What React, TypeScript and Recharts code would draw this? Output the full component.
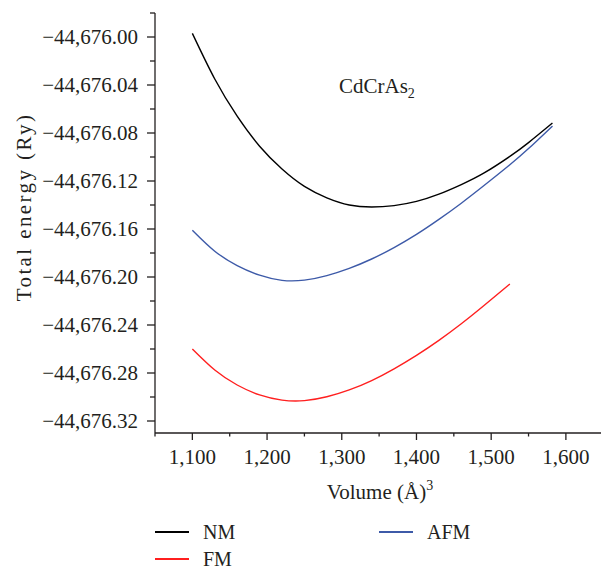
import React from "react";
import { LineChart, Line, XAxis, YAxis } from "recharts";

// volumes (Å^3) and total energies (Ry)
const volume = [1100, 1130, 1160, 1190, 1220, 1250, 1280, 1310, 1340, 1370, 1400, 1430, 1460, 1490, 1525, 1550, 1582];
const nmEnergy = [
  -44675.997, -44676.035, -44676.066, -44676.091, -44676.11, -44676.1245, -44676.134, -44676.14, -44676.1417,
  -44676.1405, -44676.137, -44676.131, -44676.123, -44676.1135, -44676.0995, -44676.088, -44676.0717,
];
const afmEnergy = [
  -44676.161, -44676.1785, -44676.1905, -44676.1985, -44676.2028, -44676.2026, -44676.1988, -44676.1928, -44676.185,
  -44676.1755, -44676.1645, -44676.152, -44676.1385, -44676.124, -44676.1065, -44676.093, -44676.0742,
];
const fmEnergy = [
  -44676.26, -44676.2775, -44676.29, -44676.2983, -44676.3026, -44676.303, -44676.2998, -44676.2941, -44676.2863,
  -44676.2765, -44676.2653, -44676.2528, -44676.239, -44676.224, -44676.2058, null, null,
];

const xTicks = [1050, 1100, 1150, 1200, 1250, 1300, 1350, 1400, 1450, 1500, 1550, 1600];
const yTicks = [
  -44676.32, -44676.3, -44676.28, -44676.26, -44676.24, -44676.22, -44676.2, -44676.18, -44676.16,
  -44676.14, -44676.12, -44676.1, -44676.08, -44676.06, -44676.04, -44676.02, -44676.0, -44675.98,
];
const frameTicks = [1, 2, 3, 4, 5, 6, 7, 8, 9];

const data = volume.map((v, i) => ({ volume: v, NM: nmEnergy[i], AFM: afmEnergy[i], FM: fmEnergy[i] }));

const FONT = '"Liberation Serif", "Times New Roman", serif';
const INK = "#231f20";
const AXIS_W = 1.3;

const fmtEnergy = (v: number) =>
  "\u2212" + Math.abs(v).toLocaleString("en-US", { minimumFractionDigits: 2, maximumFractionDigits: 2 });

const LeftTick = (props: any) => {
  const { x, y, payload } = props;
  const k = Math.round((-44676 - payload.value) / 0.02);
  const major = k % 2 === 0;
  return (
    <g>
      <line x1={x - (major ? 8 : 5)} x2={x} y1={y} y2={y} stroke={INK} strokeWidth={AXIS_W} />
      {major && (
        <text x={x - 17} y={y} dy="0.35em" textAnchor="end" fontFamily={FONT} fontSize={21} fill={INK}>
          {fmtEnergy(payload.value)}
        </text>
      )}
    </g>
  );
};

const BottomTick = (props: any) => {
  const { x, y, payload } = props;
  const major = payload.value % 100 === 0;
  return (
    <g>
      <line x1={x} x2={x} y1={y} y2={y + (major ? 7 : 3.5)} stroke={INK} strokeWidth={AXIS_W} />
      {major && (
        <text x={x} y={y + 31} textAnchor="middle" fontFamily={FONT} fontSize={21} fill={INK}>
          {payload.value.toLocaleString("en-US")}
        </text>
      )}
    </g>
  );
};

const TopTick = (props: any) => {
  const { x, y, payload } = props;
  const len = payload.value % 2 === 0 ? 8 : 3.5;
  return <line x1={x} x2={x} y1={y} y2={y + len} stroke={INK} strokeWidth={AXIS_W} />;
};

const RightTick = (props: any) => {
  const { x, y, payload } = props;
  const len = payload.value % 2 === 0 ? 6 : 2.5;
  return <line x1={x - len} x2={x} y1={y} y2={y} stroke={INK} strokeWidth={AXIS_W} />;
};

const legendItems = [
  { name: "NM", color: "#000000", left: 155, top: 531 },
  { name: "AFM", color: "#3d5aa8", left: 379, top: 531 },
  { name: "FM", color: "#ff1f1f", left: 155, top: 558 },
];

export default function App() {
  return (
    <div
      style={{
        position: "absolute",
        left: 0,
        top: 0,
        width: 601,
        height: 569,
        overflow: "hidden",
        background: "#fff",
        fontFamily: FONT,
        color: INK,
      }}
    >
      <LineChart width={601} height={569} data={data} margin={{ top: 13, right: 0, bottom: 0, left: 0 }}>
        <XAxis
          dataKey="volume"
          type="number"
          domain={[1050, 1647]}
          ticks={xTicks}
          interval={0}
          allowDataOverflow
          height={136}
          tickSize={0}
          tickMargin={0}
          tickLine={false}
          axisLine={{ stroke: INK, strokeWidth: AXIS_W }}
          tick={(p: any) => <BottomTick {...p} />}
          label={() => (
            <text x={380} y={499} textAnchor="middle" fontFamily={FONT} fontSize={21} fill={INK}>
              Volume (Å)
              <tspan dy={-9} fontSize={14}>
                3
              </tspan>
            </text>
          )}
        />
        <XAxis
          xAxisId="frame"
          orientation="top"
          type="number"
          domain={[0, 10]}
          ticks={frameTicks}
          interval={0}
          height={0}
          tickSize={0}
          tickMargin={0}
          tickLine={false}
          axisLine={{ stroke: INK, strokeWidth: AXIS_W }}
          tick={(p: any) => <TopTick {...p} />}
        />
        <YAxis
          type="number"
          domain={[-44676.33, -44675.98]}
          ticks={yTicks}
          interval={0}
          allowDataOverflow
          width={155}
          tickSize={0}
          tickMargin={0}
          tickLine={false}
          axisLine={{ stroke: INK, strokeWidth: AXIS_W }}
          tick={(p: any) => <LeftTick {...p} />}
          label={() => (
            <text
              x={24}
              y={207}
              dy="0.35em"
              transform="rotate(-90 24 207)"
              textAnchor="middle"
              fontFamily={FONT}
              fontSize={21}
              letterSpacing={2.4}
              fill={INK}
            >
              Total energy (Ry)
            </text>
          )}
        />
        <YAxis
          yAxisId="frame"
          orientation="right"
          type="number"
          domain={[0, 10]}
          ticks={frameTicks}
          interval={0}
          width={0}
          tickSize={0}
          tickMargin={0}
          tickLine={false}
          axisLine={false}
          tick={(p: any) => <RightTick {...p} />}
        />
        <Line type="natural" dataKey="NM" stroke="#000000" strokeWidth={1.4} dot={false} isAnimationActive={false} />
        <Line type="natural" dataKey="AFM" stroke="#3d5aa8" strokeWidth={1.4} dot={false} isAnimationActive={false} />
        <Line type="natural" dataKey="FM" stroke="#ff1f1f" strokeWidth={1.4} dot={false} isAnimationActive={false} />
      </LineChart>

      <div style={{ position: "absolute", left: 339, top: 76, fontSize: 21, lineHeight: 1 }}>
        CdCrAs<sub style={{ fontSize: 14 }}>2</sub>
      </div>

      {legendItems.map((it) => (
        <div key={it.name}>
          <div
            style={{
              position: "absolute",
              left: it.left,
              top: it.top,
              width: 34,
              height: 2,
              background: it.color,
            }}
          />
          <div
            style={{
              position: "absolute",
              left: it.left + 48,
              top: it.top - 8,
              fontSize: 20,
              lineHeight: "18px",
              whiteSpace: "nowrap",
            }}
          >
            {it.name}
          </div>
        </div>
      ))}
    </div>
  );
}
